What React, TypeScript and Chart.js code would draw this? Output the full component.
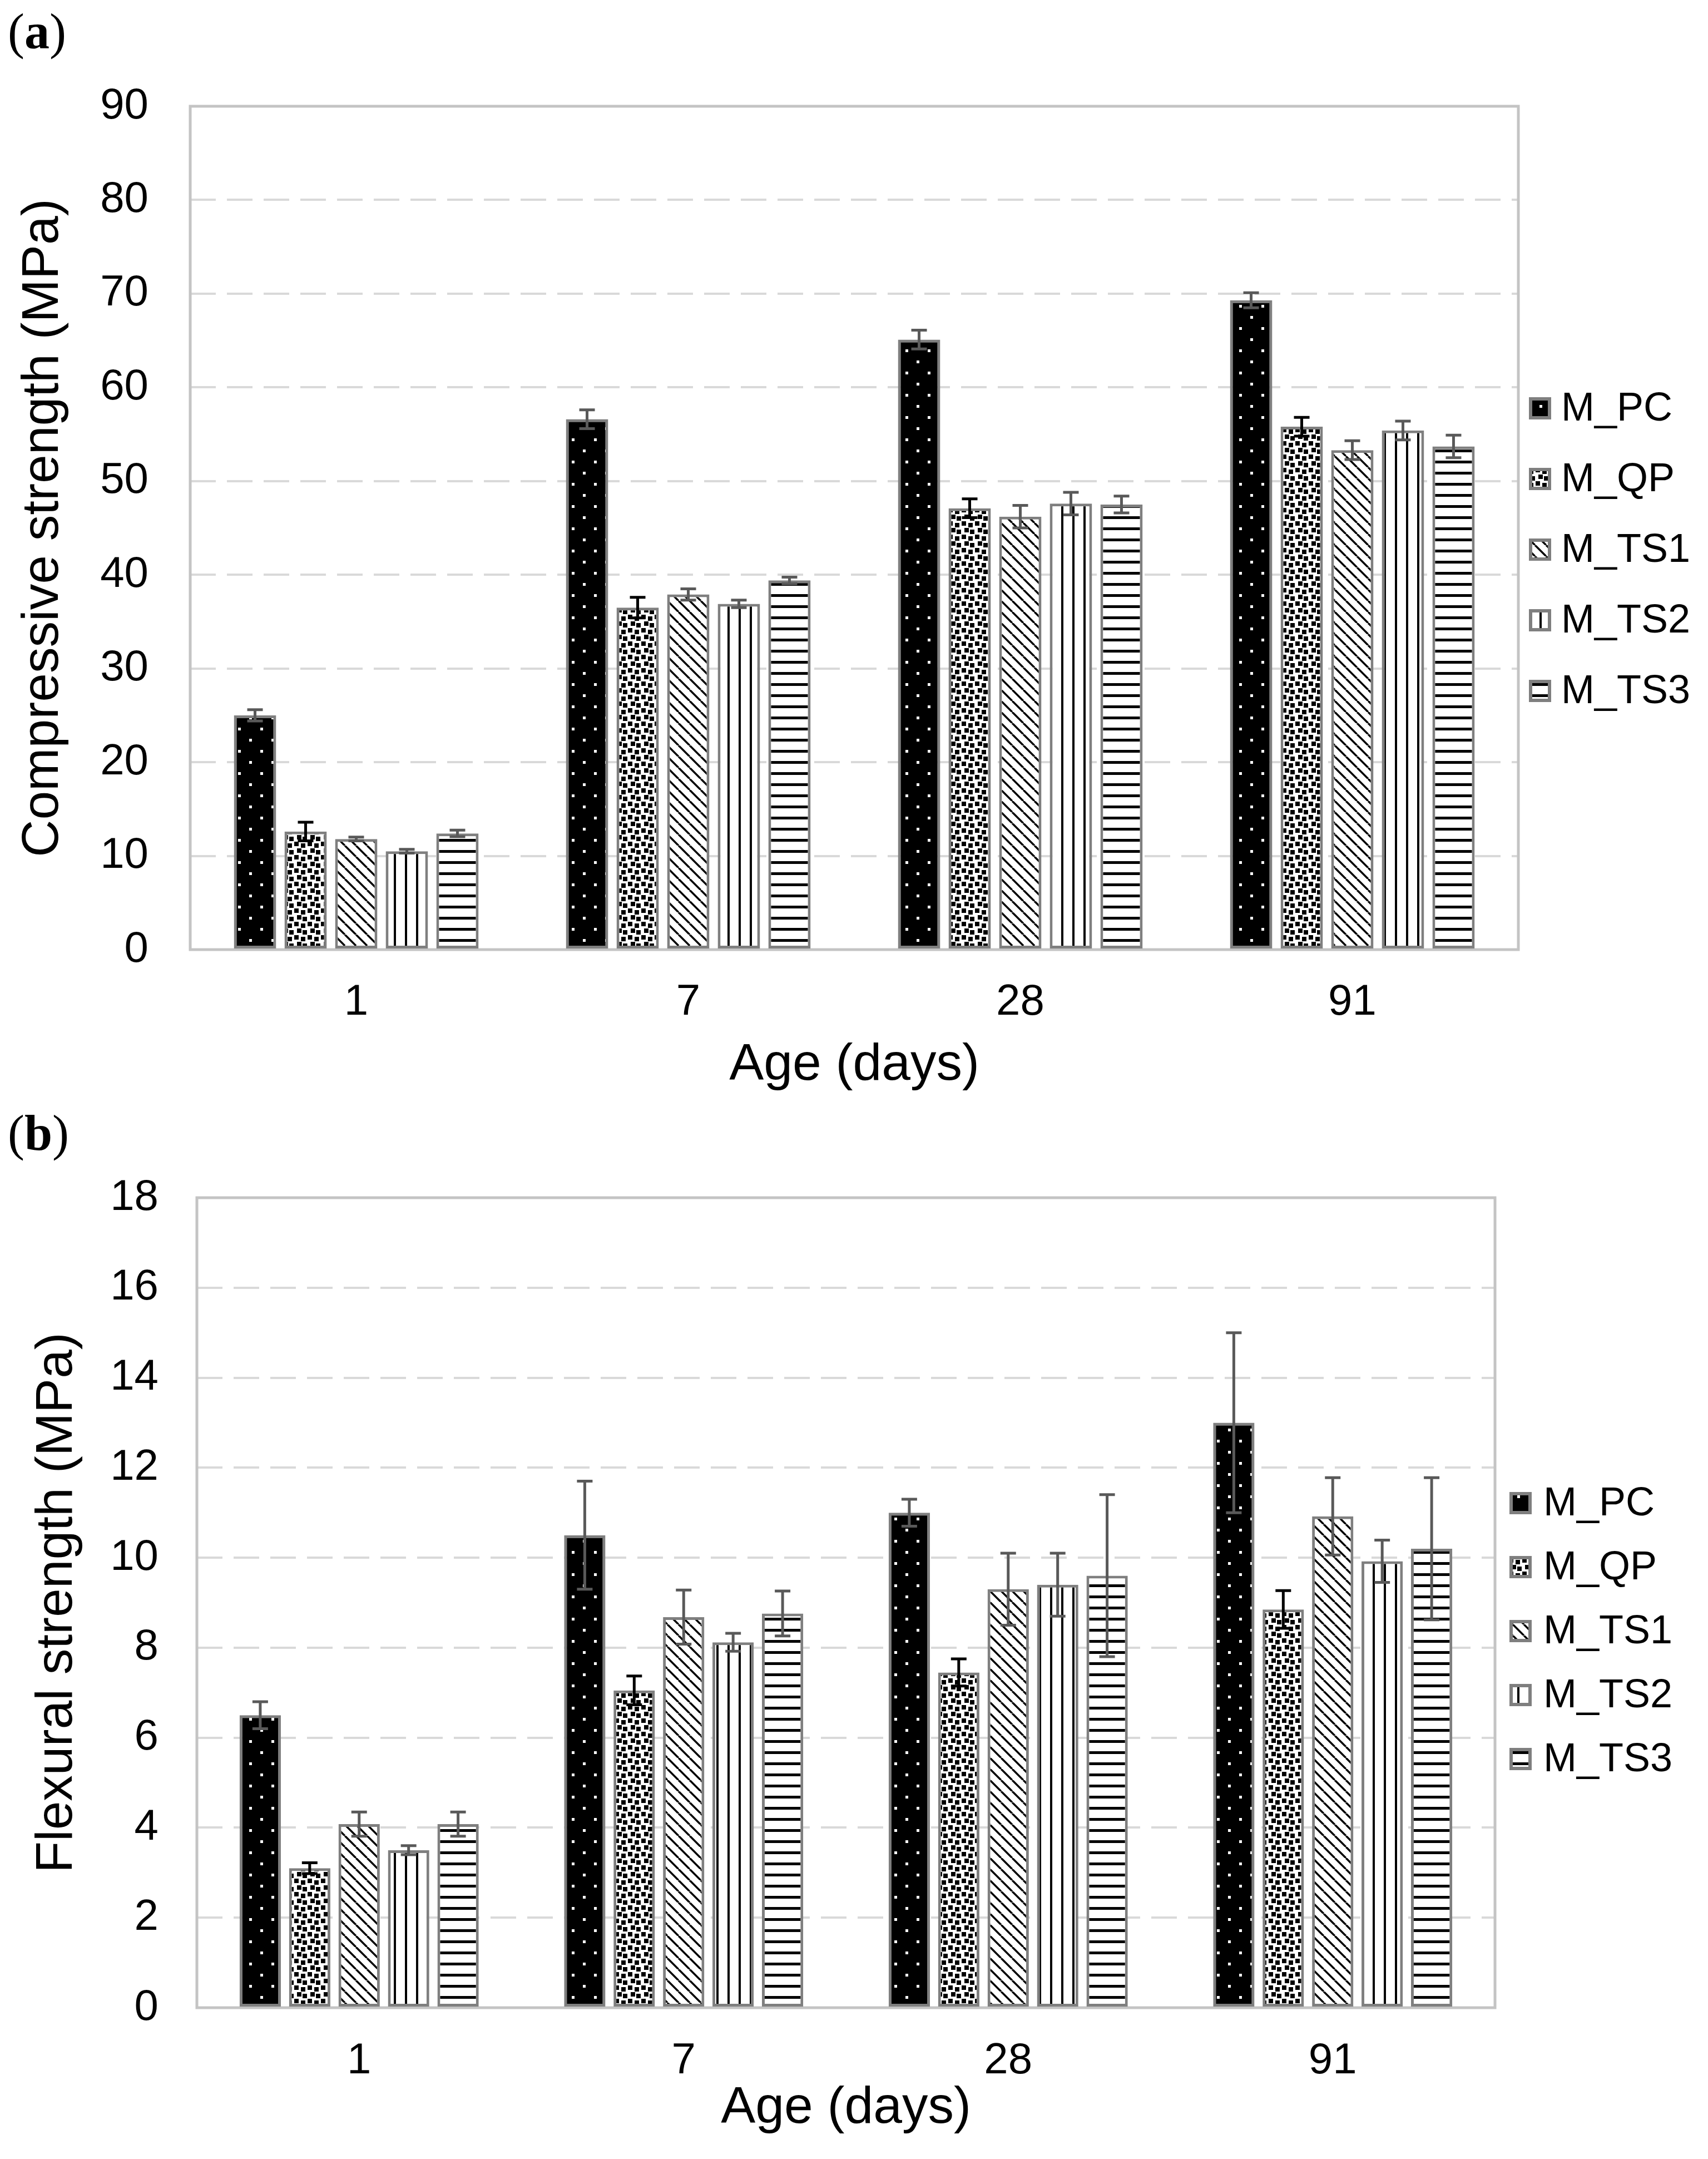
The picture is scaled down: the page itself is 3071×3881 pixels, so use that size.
import React, { useEffect, useRef } from 'react';
import { Chart, registerables } from 'chart.js';

Chart.register(...registerables);

// ---------- data ----------
const categories = ['1', '7', '28', '91'];
const seriesNames = ['M_PC', 'M_QP', 'M_TS1', 'M_TS2', 'M_TS3'];

// (a) compressive strength (MPa)
const compPC = [25.0, 56.6, 65.1, 69.3];
const compQP = [12.6, 36.5, 47.1, 55.8];
const compTS1 = [11.8, 37.9, 46.2, 53.3];
const compTS2 = [10.5, 36.9, 47.6, 55.4];
const compTS3 = [12.4, 39.4, 47.5, 53.7];
const compPCErr = [0.6, 1.0, 1.0, 0.8];
const compQPErr = [1.0, 1.1, 1.0, 1.0];
const compTS1Err = [0.2, 0.6, 1.2, 1.0];
const compTS2Err = [0.2, 0.4, 1.2, 1.0];
const compTS3Err = [0.35, 0.35, 0.9, 1.2];
const compTicks = { min: 0, max: 90, step: 10 };

// (b) flexural strength (MPa)
const flexPC = [6.5, 10.5, 11.0, 13.0];
const flexQP = [3.1, 7.05, 7.45, 8.85];
const flexTS1 = [4.08, 8.68, 9.3, 10.92];
const flexTS2 = [3.5, 8.12, 9.4, 9.92];
const flexTS3 = [4.08, 8.76, 9.6, 10.2];
const flexPCErr = [0.3, 1.2, 0.3, 2.0];
const flexQPErr = [0.12, 0.32, 0.3, 0.42];
const flexTS1Err = [0.27, 0.6, 0.8, 0.86];
const flexTS2Err = [0.1, 0.2, 0.7, 0.47];
const flexTS3Err = [0.27, 0.5, 1.8, 1.58];
const flexTicks = { min: 0, max: 18, step: 2 };

const errColors = ['#595959', '#000000', '#595959', '#595959', '#595959'];

// ---------- style / layout ----------
const FONT = "'Liberation Sans', Arial, Helvetica, sans-serif";
const W = 3071;

function makeTile(w: number, h: number, draw: (g: CanvasRenderingContext2D) => void) {
  const c = document.createElement('canvas');
  c.width = w;
  c.height = h;
  const g = c.getContext('2d') as CanvasRenderingContext2D;
  draw(g);
  return c;
}

function makePatterns(ctx: CanvasRenderingContext2D) {
  const pc = makeTile(40, 40, (g) => {
    g.fillStyle = '#000';
    g.fillRect(0, 0, 40, 40);
    g.fillStyle = '#fff';
    g.fillRect(8, 8, 5, 5);
    g.fillRect(28, 28, 5, 5);
  });
  const qp = makeTile(24, 24, (g) => {
    g.fillStyle = '#fff';
    g.fillRect(0, 0, 24, 24);
    g.fillStyle = '#000';
    [[1, 1], [13, 4], [6, 13], [16, 16]].forEach(([x, y]) => g.fillRect(x, y, 8, 8));
  });
  const ts1 = makeTile(20, 20, (g) => {
    g.fillStyle = '#fff';
    g.fillRect(0, 0, 20, 20);
    g.strokeStyle = '#000';
    g.lineWidth = 3.5;
    g.beginPath();
    [-20, 0, 20].forEach((k) => {
      g.moveTo(k, 0);
      g.lineTo(k + 20, 20);
    });
    g.stroke();
  });
  const ts2 = makeTile(20, 4, (g) => {
    g.fillStyle = '#fff';
    g.fillRect(0, 0, 20, 4);
    g.fillStyle = '#000';
    g.fillRect(8, 0, 4, 4);
  });
  const ts3 = makeTile(4, 20, (g) => {
    g.fillStyle = '#fff';
    g.fillRect(0, 0, 4, 20);
    g.fillStyle = '#000';
    g.fillRect(0, 8, 4, 5);
  });
  return [pc, qp, ts1, ts2, ts3].map((t) => ctx.createPattern(t, 'repeat') as CanvasPattern);
}

type Spec = {
  values: number[][];
  errors: number[][];
  ticks: { min: number; max: number; step: number };
  yTitle: string;
  height: number;
  top: number;
  plotLeft: number;
  plotRight: number;
  plotTop: number;
  plotBottom: number;
  yTickPad: number;
  xTickPad: number;
  yTitlePad: number;
  xTitlePadBottom: number;
  legendX: number;
  legendTextX: number;
  legendY: number;
  legendStep: number;
};

const specA: Spec = {
  values: [compPC, compQP, compTS1, compTS2, compTS3],
  errors: [compPCErr, compQPErr, compTS1Err, compTS2Err, compTS3Err],
  ticks: compTicks,
  yTitle: 'Compressive strength (MPa)',
  height: 1990,
  top: 0,
  plotLeft: 342,
  plotRight: 2730,
  plotTop: 191,
  plotBottom: 1707,
  yTickPad: 75,
  xTickPad: 49,
  yTitlePad: 23,
  xTitlePadBottom: 19,
  legendX: 2749,
  legendTextX: 2807,
  legendY: 734,
  legendStep: 127,
};

const specB: Spec = {
  values: [flexPC, flexQP, flexTS1, flexTS2, flexTS3],
  errors: [flexPCErr, flexQPErr, flexTS1Err, flexTS2Err, flexTS3Err],
  ticks: flexTicks,
  yTitle: 'Flexural strength (MPa)',
  height: 1921,
  top: 1960,
  plotLeft: 354,
  plotRight: 2688,
  plotTop: 193,
  plotBottom: 1649,
  yTickPad: 69,
  xTickPad: 50,
  yTitlePad: 48,
  xTitlePadBottom: 35,
  legendX: 2714,
  legendTextX: 2775,
  legendY: 742,
  legendStep: 115,
};

function buildChart(canvas: HTMLCanvasElement, spec: Spec) {
  const ctx = canvas.getContext('2d') as CanvasRenderingContext2D;
  const pats = makePatterns(ctx);

  const datasets = spec.values.map((vals, i) => ({
    label: seriesNames[i],
    data: vals,
    backgroundColor: pats[i],
    borderColor: '#7f7f7f',
    borderWidth: 5,
    borderSkipped: false as const,
    categoryPercentage: 0.762,
    barPercentage: 0.835,
  }));

  const decor = {
    id: 'decor',
    beforeDatasetsDraw(chart: any) {
      const { ctx: c, chartArea: a } = chart;
      c.save();
      c.strokeStyle = '#c4c4c4';
      c.lineWidth = 5;
      c.strokeRect(a.left, a.top, a.right - a.left, a.bottom - a.top);
      c.restore();
    },
    afterDatasetsDraw(chart: any) {
      const c = chart.ctx;
      const y = chart.scales.y;
      chart.data.datasets.forEach((ds: any, i: number) => {
        const meta = chart.getDatasetMeta(i);
        const errs = spec.errors[i];
        meta.data.forEach((bar: any, j: number) => {
          const v = ds.data[j];
          const e = errs[j];
          const yT = y.getPixelForValue(v + e);
          const yB = y.getPixelForValue(v - e);
          const x = bar.x;
          c.save();
          c.strokeStyle = errColors[i];
          c.lineWidth = 5;
          c.beginPath();
          c.moveTo(x, yT);
          c.lineTo(x, yB);
          c.moveTo(x - 14, yT);
          c.lineTo(x + 14, yT);
          c.moveTo(x - 14, yB);
          c.lineTo(x + 14, yB);
          c.stroke();
          c.restore();
        });
      });
    },
    afterDraw(chart: any) {
      const c = chart.ctx;
      const s = 40;
      chart.data.datasets.forEach((ds: any, i: number) => {
        const cy = spec.legendY + i * spec.legendStep;
        c.save();
        c.fillStyle = ds.backgroundColor;
        c.fillRect(spec.legendX, cy - s / 2, s, s);
        c.strokeStyle = '#7f7f7f';
        c.lineWidth = 6;
        c.strokeRect(spec.legendX + 3, cy - s / 2 + 3, s - 6, s - 6);
        c.fillStyle = '#000';
        c.font = `72px ${FONT}`;
        c.textBaseline = 'middle';
        c.textAlign = 'left';
        c.fillText(ds.label, spec.legendTextX, cy + 2);
        c.restore();
      });
    },
  };

  return new Chart(canvas, {
    type: 'bar',
    data: { labels: categories, datasets },
    plugins: [decor],
    options: {
      responsive: false,
      maintainAspectRatio: false,
      devicePixelRatio: 1,
      animation: false,
      layout: {
        padding: { left: 0, top: spec.plotTop, right: W - spec.plotRight, bottom: 0 },
      },
      plugins: {
        legend: { display: false },
        tooltip: { enabled: false },
        title: { display: false },
      },
      scales: {
        x: {
          grid: { display: false, drawTicks: false },
          border: { display: false },
          ticks: { color: '#000', font: { family: FONT, size: 78 }, padding: spec.xTickPad },
          title: {
            display: true,
            text: 'Age (days)',
            color: '#000',
            font: { family: FONT, size: 93 },
            padding: { top: 0, bottom: spec.xTitlePadBottom },
          },
          afterFit(scale: any) {
            scale.height = spec.height - spec.plotBottom;
          },
        },
        y: {
          min: spec.ticks.min,
          max: spec.ticks.max,
          grid: { color: '#d9d9d9', lineWidth: 4, drawTicks: false },
          border: { display: false, dash: [46, 20] },
          ticks: {
            stepSize: spec.ticks.step,
            color: '#000',
            font: { family: FONT, size: 78 },
            padding: spec.yTickPad,
          },
          title: {
            display: true,
            text: spec.yTitle,
            color: '#000',
            font: { family: FONT, size: 93 },
            padding: { top: spec.yTitlePad, bottom: 0 },
          },
          afterFit(scale: any) {
            scale.width = spec.plotLeft;
          },
        },
      },
    } as any,
  });
}

function Panel({ spec }: { spec: Spec }) {
  const ref = useRef<HTMLCanvasElement>(null);
  useEffect(() => {
    const chart = buildChart(ref.current as HTMLCanvasElement, spec);
    return () => chart.destroy();
  }, [spec]);
  return (
    <canvas
      ref={ref}
      width={W}
      height={spec.height}
      style={{ position: 'absolute', left: 0, top: spec.top, width: W, height: spec.height }}
    />
  );
}

const labelStyle: React.CSSProperties = {
  position: 'absolute',
  left: 14,
  fontFamily: "'Liberation Serif', 'Times New Roman', serif",
  fontSize: 90,
  lineHeight: '90px',
  color: '#000',
  margin: 0,
  whiteSpace: 'nowrap',
};

export default function App() {
  return (
    <div style={{ position: 'absolute', left: 0, top: 0, width: W, height: 3881, background: '#fff', overflow: 'hidden' }}>
      <Panel spec={specA} />
      <Panel spec={specB} />
      <div style={{ ...labelStyle, top: 12 }}>
        (<b>a</b>)
      </div>
      <div style={{ ...labelStyle, top: 1992 }}>
        (<b>b</b>)
      </div>
    </div>
  );
}
